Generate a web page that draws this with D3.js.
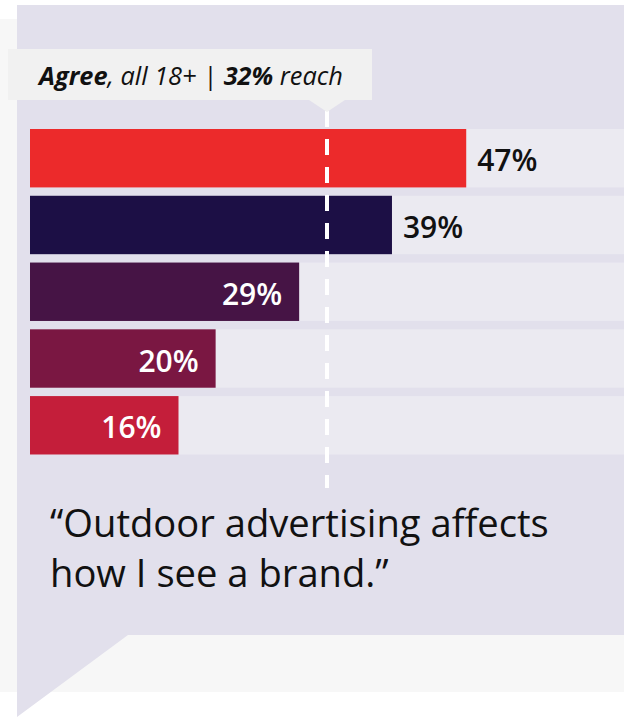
<!DOCTYPE html>
<html>
<head>
<meta charset="utf-8">
<script src="https://cdn.jsdelivr.net/npm/d3@7"></script>
<style>
  html, body { margin: 0; padding: 0; background: #ffffff; }
  svg { display: block; }
  text { font-family: "Open Sans", "Noto Sans", sans-serif; }
</style>
</head>
<body>
<div id="chart"></div>
<script>
// Share of each audience group agreeing with the statement (%)
const groups = ["group1", "group2", "group3", "group4", "group5"];
const agreeValues = [47, 39, 29, 20, 16];
const barColors = ["#ec2a2b", "#1c0f45", "#461445", "#7a1742", "#c41e3a"];

// Reference level: all adults 18+
const reachValue = 32;
const headlineParts = [
  { text: "Agree", bold: true },
  { text: ", all 18+ | ", bold: false },
  { text: "32%", bold: true },
  { text: " reach", bold: false }
];

const quoteLines = ["\u201COutdoor advertising affects", "how I see a brand.\u201D"];

const W = 624, H = 717;

const svg = d3.select("#chart").append("svg")
  .attr("width", W)
  .attr("height", H);

// Backdrop and speech-bubble panel
svg.append("rect")
  .attr("x", 0).attr("y", 19)
  .attr("width", W).attr("height", 673)
  .attr("fill", "#f7f7f7");

svg.append("path")
  .attr("d", "M17,5 H624 V635 H128 L17,717 Z")
  .attr("fill", "#e2e0ec");

// Scales
const x = d3.scaleLinear().domain([0, 64]).range([30, 624]);
const y = d3.scaleBand().domain(groups).range([129, 454.5]).paddingInner(0.125).paddingOuter(0);

const rows = groups.map((g, i) => ({ g, v: agreeValues[i], c: barColors[i] }));

// Tracks behind each bar
svg.append("g").selectAll("rect")
  .data(rows).join("rect")
  .attr("x", x(0))
  .attr("y", d => y(d.g))
  .attr("width", W - x(0))
  .attr("height", y.bandwidth())
  .attr("fill", "#ebeaf1");

// Bars
svg.append("g").selectAll("rect")
  .data(rows).join("rect")
  .attr("x", x(0))
  .attr("y", d => y(d.g))
  .attr("width", d => x(d.v) - x(0))
  .attr("height", y.bandwidth())
  .attr("fill", d => d.c);

// Reference line at the all-adults level
svg.append("line")
  .attr("x1", x(reachValue)).attr("x2", x(reachValue))
  .attr("y1", 111).attr("y2", 488)
  .attr("stroke", "#ffffff")
  .attr("stroke-width", 4)
  .attr("stroke-dasharray", "16 12");

// Headline box with pointer
svg.append("rect")
  .attr("x", 8).attr("y", 49)
  .attr("width", 364).attr("height", 51)
  .attr("fill", "#f1f1f1");

const px = x(reachValue);
svg.append("path")
  .attr("d", `M${px - 18},100 L${px + 18},100 L${px},112 Z`)
  .attr("fill", "#f1f1f1");

const headline = svg.append("text")
  .attr("x", 39).attr("y", 85)
  .attr("font-size", 24)
  .attr("font-style", "italic")
  .attr("fill", "#111111");
headline.selectAll("tspan")
  .data(headlineParts).join("tspan")
  .attr("font-weight", d => d.bold ? 700 : 400)
  .text(d => d.text);

function fitWidth(sel, target) {
  const node = sel.node();
  const size = +sel.attr("font-size");
  const w = node.getComputedTextLength();
  if (w > 0) sel.attr("font-size", (size * target / w).toFixed(2));
}
fitWidth(headline, 304);

// Value labels: outside the bar when above the reference, inside otherwise
svg.append("g").selectAll("text")
  .data(rows).join("text")
  .attr("x", d => d.v > reachValue ? x(d.v) + 11 : x(d.v) - 17)
  .attr("y", d => y(d.g) + y.bandwidth() / 2 + 13)
  .attr("text-anchor", d => d.v > reachValue ? "start" : "end")
  .attr("font-size", 30)
  .attr("font-weight", 600)
  .attr("fill", d => d.v > reachValue ? "#111111" : "#ffffff")
  .text(d => d.v + "%");

// Quote
const quote = svg.append("g");
const q1 = quote.append("text")
  .attr("x", 50).attr("y", 537)
  .attr("font-size", 40)
  .attr("font-weight", 400)
  .attr("fill", "#111111")
  .text(quoteLines[0]);
fitWidth(q1, 499);
quote.append("text")
  .attr("x", 50).attr("y", 587)
  .attr("font-size", q1.attr("font-size"))
  .attr("font-weight", 400)
  .attr("fill", "#111111")
  .text(quoteLines[1]);
</script>
</body>
</html>
